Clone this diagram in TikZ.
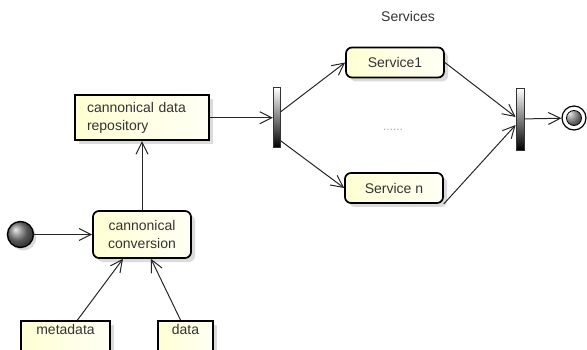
\documentclass[tikz,border=0pt]{standalone}
\usepackage{fontspec}
\setmainfont{Liberation Sans}
\usetikzlibrary{positioning,calc,arrows.meta,shadows}

\begin{document}
\begin{tikzpicture}[x=1pt,y=-1pt,
        font=\fontsize{14}{18}\selectfont,
        every node/.style={text=black!80},
        box/.style={draw=black,line width=1.7pt,left color=yellow!17,right color=yellow!4,
            drop shadow={shadow xshift=4pt,shadow yshift=-4pt,fill=black!14,opacity=1}},
        act/.style={box,rounded corners=6pt,minimum width=98pt,minimum height=30pt},
        bar/.style={draw=black!80,line width=0.8pt,top color=white,bottom color=black,
            minimum width=7pt,minimum height=60pt,inner sep=0pt},
        flow/.style={draw=black!85,line width=1pt,-{Straight Barb[length=12pt,width=12pt]}}]
    \useasboundingbox (0,0) rectangle (587,350);
    \clip (0,0) rectangle (587,350);
    \node[act,minimum height=47pt,align=center] (c1) at (142,234.5) {cannonical\\conversion};
    \node[box,above=69pt of c1,text width=110pt,minimum height=45pt,align=left,inner xsep=12pt] (r1) {cannonical data\\repository};
    \node[circle,draw,line width=1.4pt,ball color=black!50,minimum size=26pt,inner sep=0pt,
        drop shadow={shadow xshift=3pt,shadow yshift=-3pt,fill=black!14,opacity=1},left=58pt of c1] (s0) {};
    \node[box,anchor=north,text height=10pt,text depth=20pt,minimum width=89pt] (m1) at (65.5,320) {metadata};
    \node[box,anchor=north,text height=10pt,text depth=20pt,minimum width=55pt] (d1) at (185.5,320) {data};
    \node[bar,right=63pt of r1] (f1) {};
    \node[act] (s1) at (395,62.5) {Service1};
    \node[act] (s2) at (394,188) {Service n};
    \node[bar,minimum width=8pt,minimum height=62pt] (j1) at (520,119) {};
    \node[circle,draw,line width=1.2pt,fill=white,minimum size=24pt,inner sep=0pt,
        path picture={\shade[ball color=black!50,draw=black,line width=0.8pt] (path picture bounding box.center) circle (7.5pt);}] (e1) at (574,118) {};
    \node (t1) at (408,16) {Services};
    \node[text=black!35,font=\fontsize{12}{14}\selectfont] (t2) at (393,130) {......};
    \draw[flow] (s0) -- (c1);
    \draw[flow] (c1) -- (r1);
    \draw[flow] ($(m1.north)+(12,0)$) -- ($(c1.south)+(-19,0)$);
    \draw[flow] ($(d1.north)+(-5,0)$) -- ($(c1.south)+(9,0)$);
    \draw[flow] (r1) -- (f1);
    \draw[flow] ($(f1.east)+(0,-6)$) -- (s1.west);
    \draw[flow] ($(f1.east)+(0,23)$) -- (s2.west);
    \draw[flow] (s1.east) -- ($(j1.west)+(0,-2)$);
    \draw[flow] (s2.south east) -- ($(j1.west)+(0,6)$);
    \draw[flow] (j1) -- (e1);
\end{tikzpicture}
\end{document}
